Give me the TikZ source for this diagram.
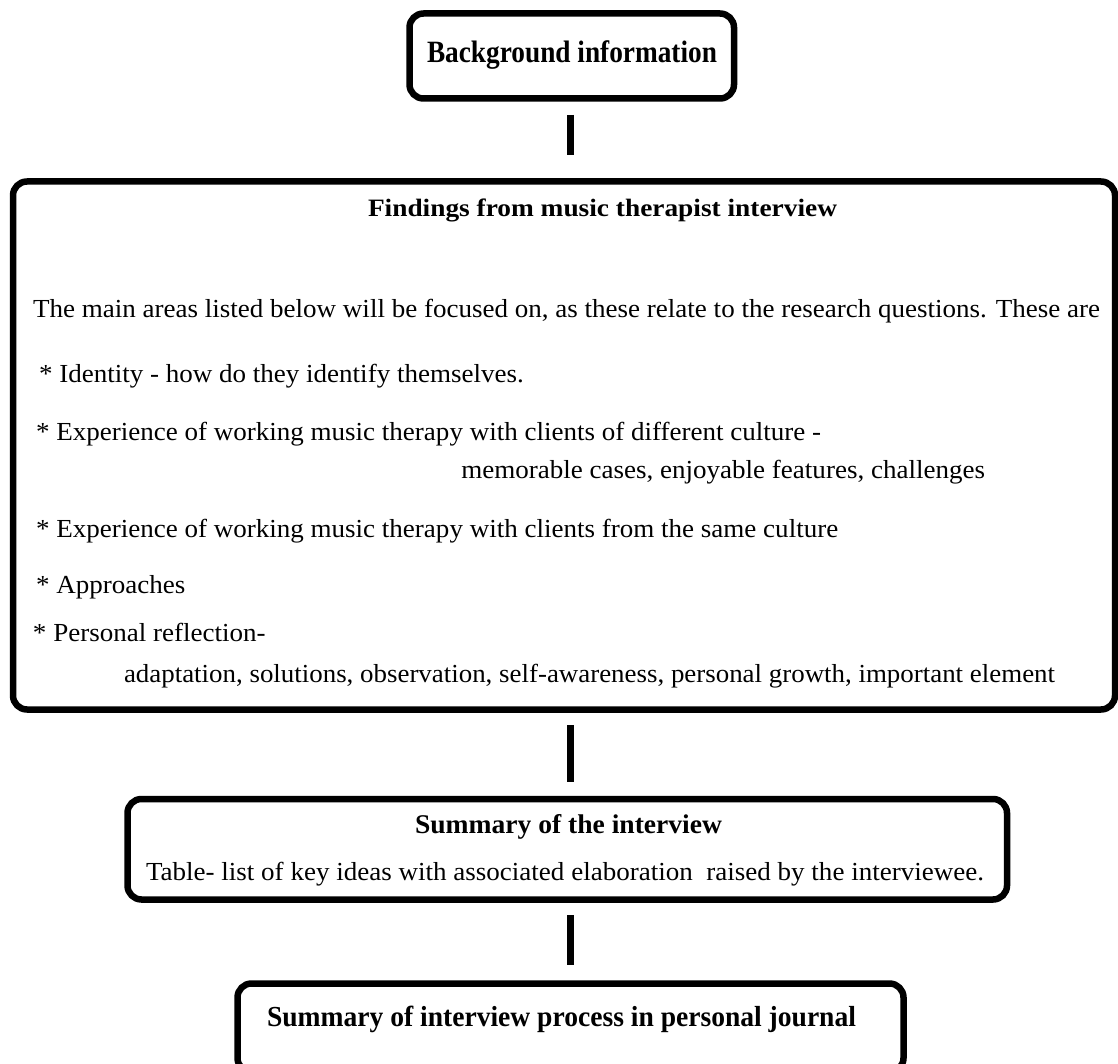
\documentclass[tikz,border=0pt]{standalone}
\usepackage{fontspec}
\setmainfont{Liberation Serif}
\usepackage{graphicx}
\newlength\lineonewd
\newcommand\fitw[2]{\resizebox{#1}{\height}{#2}}
\newcommand\bodyl[1]{\scalebox{\bx}[1]{#1}}
\begin{document}
\settowidth\lineonewd{\fontsize{26}{30}\selectfont The main areas listed below will be focused on, as these relate to the research questions. These are}%
\pgfmathsetmacro\bx{1067/\lineonewd}%
\begin{tikzpicture}[x=1pt,y=-1pt,
  box/.style={draw, line width=6.5pt, rounded corners=14pt, outer sep=0pt, inner sep=0pt},
  conn/.style={line width=7pt},
  txt/.style={inner sep=0pt, outer sep=0pt},
  body/.style={txt, font=\fontsize{26}{30}\selectfont},
  ttl/.style={txt, font=\bfseries\fontsize{#1}{#1}\selectfont},
]
\useasboundingbox (0,0) rectangle (1118,1064);
\clip (0,0) rectangle (1118,1064);

% boxes
\node[box, minimum width=324.5pt, minimum height=85pt] (b1) at (571.75,56) {};
\node[box, minimum width=1102pt, minimum height=528pt] (b2) at (564,445.5) {};
\node[box, minimum width=879.5pt, minimum height=100.5pt] (b3) at (567.25,849.25) {};
\node[box, minimum width=666pt, minimum height=88.5pt] (b4) at (570.5,1027.75) {};

% connector axis
\coordinate (xc) at (570,0);
\draw[conn, shorten <=16.5pt, shorten >=26.5pt] (b1.south -| xc) -- (b2.north -| xc);
\draw[conn, shorten <=15.5pt, shorten >=17pt] (b2.south -| xc) -- (b3.north -| xc);
\draw[conn, shorten <=15.5pt, shorten >=18.5pt] (b3.south -| xc) -- (b4.north -| xc);

% texts
\node[ttl=31, anchor=base west] (t1) at (427,63) {\fitw{290pt}{Background information}};
\node[ttl=25, anchor=base west] (t2) at (368,217) {\fitw{469pt}{Findings from music therapist interview}};

\node[body, anchor=base west] (l1) at (33,317) {\fitw{1067pt}{The main areas listed below will be focused on, as these relate to the research questions. These are}};
\node[body, anchor=base west] (l2) at (39,382) {\bodyl{* Identity - how do they identify themselves.}};
\node[body, anchor=base west] (l3) at (36,440) {\bodyl{* Experience of working music therapy with clients of different culture -}};
\node[body, anchor=base east] (l4) at (985,478) {\bodyl{memorable cases, enjoyable features, challenges}};
\node[body, anchor=base west] (l5) at (36,537) {\bodyl{* Experience of working music therapy with clients from the same culture}};
\node[body, anchor=base west] (l6) at (36,593) {\bodyl{* Approaches}};
\node[body, anchor=base west] (l7) at (33,641) {\bodyl{* Personal reflection-}};
\node[body, anchor=base west] (l8) at (124,682) {\fitw{931pt}{adaptation, solutions, observation, self-awareness, personal growth, important element}};

\node[ttl=27, anchor=base west] (t3) at (415,833) {\fitw{307pt}{Summary of the interview}};
\node[body, anchor=base west] (t4) at (146,880) {\fitw{838pt}{Table- list of key ideas with associated elaboration~ raised by the interviewee.}};
\node[ttl=29, anchor=base west] (t5) at (267,1026) {\fitw{589pt}{Summary of interview process in personal journal}};
\end{tikzpicture}
\end{document}
